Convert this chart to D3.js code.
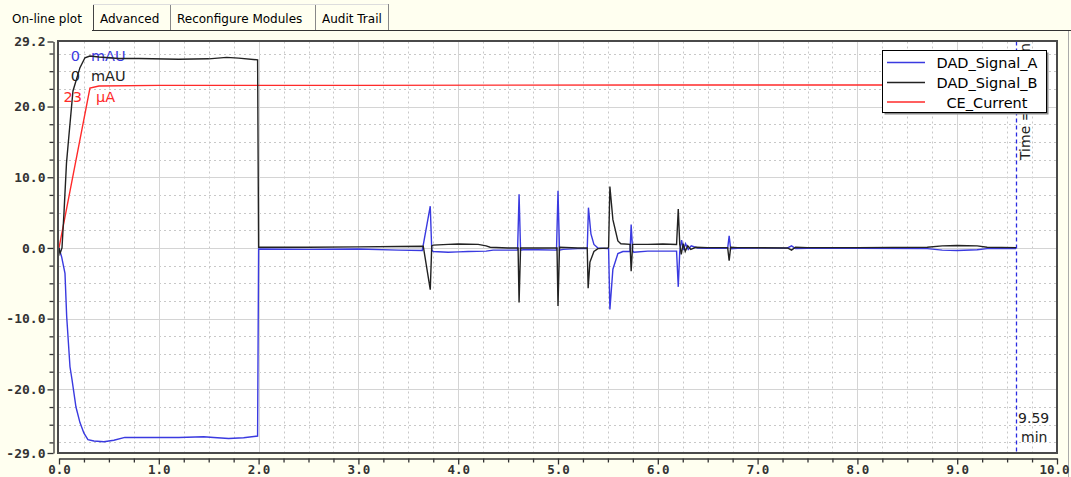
<!DOCTYPE html>
<html><head><meta charset="utf-8">
<script src="https://cdn.jsdelivr.net/npm/d3@7"></script>
<style>body{margin:0;background:#fffff0;} svg{display:block}</style>
</head><body><svg id="c" width="1071" height="477"></svg>
<script>
// ---------- data ----------
const tabs = ["On-line plot", "Advanced", "Reconfigure Modules", "Audit Trail"];
const seriesNames = ["DAD_Signal_A", "DAD_Signal_B", "CE_Current"];
const xTickValues = [0,1,2,3,4,5,6,7,8,9,10];
const yTickValues = [29.2, 20, 10, 0, -10, -20, -29.0];
const currentTime = 9.59;

const timeA = [0,0.027,0.06,0.077,0.11,0.13,0.17,0.21,0.25,0.29,0.35,0.45,0.55,0.66,0.9,1.2,1.45,1.55,1.7,1.85,1.99,2.0,
  2.5,3.0,3.4,3.64,3.72,3.735,3.75,3.9,4.0,4.1,4.28,4.35,4.595,4.61,4.625,4.65,4.8,4.985,5.0,5.015,5.05,5.2,5.293,5.305,5.33,5.36,5.4,5.5,
  5.507,5.52,5.55,5.6,5.65,5.722,5.733,5.748,5.76,5.9,6.05,6.188,6.205,6.22,6.238,6.258,6.278,6.305,6.335,6.4,6.5,6.7,6.715,6.73,6.8,
  7.3,7.34,7.38,7.5,8.0,8.7,8.85,9.0,9.2,9.3,9.59];
const signalA = [0,-1.3,-3.6,-9.7,-16.8,-18.6,-22.5,-24.7,-26.2,-27.1,-27.3,-27.4,-27.2,-26.8,-26.8,-26.8,-26.7,-26.8,-26.95,-26.85,-26.6,-0.15,
  -0.2,-0.15,-0.3,-0.35,5.9,-0.3,-0.5,-0.6,-0.55,-0.5,-0.45,-0.3,-0.3,7.6,-0.3,-0.25,-0.25,-0.3,8.1,-0.3,-0.2,-0.1,-0.1,5.7,2.0,0.5,0.0,-0.1,
  -0.1,-8.7,-3.0,-0.8,-0.5,-0.5,3.3,-0.4,-0.6,-0.45,-0.45,-0.45,-5.5,-0.5,1.1,-0.3,0.6,-0.2,0.3,0.0,-0.05,-0.05,1.7,-0.1,-0.05,
  0,0.3,-0.1,-0.05,-0.05,-0.1,-0.3,-0.35,-0.25,-0.1,-0.1];

const timeB = [0,0.01,0.03,0.05,0.075,0.095,0.14,0.21,0.26,0.31,0.4,0.6,0.8,1.2,1.5,1.68,1.8,1.99,2.0,
  2.5,3.0,3.4,3.65,3.72,3.735,3.75,3.9,4.0,4.2,4.28,4.32,4.5,4.6,4.61,4.625,4.8,4.99,5.0,5.015,5.2,5.293,5.302,5.32,5.36,5.4,5.5,
  5.507,5.52,5.55,5.6,5.63,5.722,5.733,5.748,5.9,6.05,6.188,6.205,6.22,6.235,6.255,6.275,6.3,6.33,6.38,6.5,6.7,6.715,6.73,6.8,
  7.3,7.34,7.38,7.5,8.0,8.7,8.85,9.0,9.2,9.3,9.59];
const signalB = [0,-0.8,0,5,12,15.2,22.2,25.5,26.9,27.15,27.0,26.8,26.8,26.7,26.75,26.95,26.85,26.6,0.1,
  0.1,0.15,0.2,0.25,-5.9,0.3,0.4,0.5,0.55,0.5,0.3,0.1,0,0,-7.7,0,0,0,-8.2,0.1,0,0,-5.7,-2.0,-0.5,-0.1,0,
  0.1,8.7,4.0,1.0,0.6,0.5,-3.3,0.5,0.5,0.55,0.5,5.5,0.5,-0.9,0.6,-0.5,0.3,-0.2,0.1,0.05,0.05,-1.8,0.1,0.05,
  0,-0.3,0.1,0.05,0.05,0.1,0.3,0.35,0.3,0.1,0.05];

const timeCurrent = [0,0.31,0.4,1.0,3.0,6.0,9.59];
const current = [0,22.6,22.9,23.0,23.0,23.05,23.05];

// ---------- layout ----------
const svg = d3.select("#c");
const W = 1071, H = 477;
const x = d3.scaleLinear().domain([0,10]).range([59,1057]);
const y = d3.scaleLinear().domain([-29,29.2]).range([453,41.5]);
const colors = ["#3a3ae0", "#222222", "#ff2a2a"];

svg.append("rect").attr("width",W).attr("height",H).attr("fill","#fffff0");

// tabs
const tabG = svg.append("g").attr("font-family","DejaVu Sans, sans-serif").attr("font-size",12);
const tabX = [8, 93, 170, 315, 388];
tabG.append("line").attr("x1",92).attr("x2",1071).attr("y1",30.5).attr("y2",30.5).attr("stroke","#333");
tabs.forEach((t,i)=>{
  if(i>0){
    tabG.append("line").attr("x1",tabX[i]+0.5).attr("x2",tabX[i]+0.5).attr("y1",4).attr("y2",30).attr("stroke",i===1?"#444":"#888");
    tabG.append("line").attr("x1",tabX[i]).attr("x2",tabX[i+1]).attr("y1",4.5).attr("y2",4.5).attr("stroke","#ddd");
    tabG.append("line").attr("x1",tabX[i+1]+0.5).attr("x2",tabX[i+1]+0.5).attr("y1",4).attr("y2",30).attr("stroke","#888");
  }
  tabG.append("text").attr("x",i===0?12:tabX[i]+7).attr("y",23).attr("fill","#000").text(t);
});
svg.append("line").attr("x1",1068.5).attr("x2",1068.5).attr("y1",31).attr("y2",H).attr("stroke","#aaa");

// plot area
svg.append("rect").attr("x",59).attr("y",41.5).attr("width",998).attr("height",411.5).attr("fill","#fff");

// grid
const grid = svg.append("g");
const xMinor = d3.range(0,10.001,0.25).filter(v=>Math.abs(v-Math.round(v))>1e-6);
const yMinor = d3.range(-27.5,29.2,2.5).filter(v=>Math.abs(v%10)>1e-6);
grid.selectAll(".vx").data(xMinor).join("line")
  .attr("x1",d=>Math.round(x(d))+0.5).attr("x2",d=>Math.round(x(d))+0.5).attr("y1",y(29.2)).attr("y2",y(-29))
  .attr("stroke","#c8c8c8").attr("stroke-dasharray","2,3");
grid.selectAll(".hy").data(yMinor).join("line")
  .attr("y1",d=>Math.round(y(d))+0.5).attr("y2",d=>Math.round(y(d))+0.5).attr("x1",x(0)).attr("x2",x(10))
  .attr("stroke","#c8c8c8").attr("stroke-dasharray","2,3");
grid.selectAll(".vmaj").data(d3.range(1,10)).join("line")
  .attr("x1",d=>Math.round(x(d))+0.5).attr("x2",d=>Math.round(x(d))+0.5).attr("y1",y(29.2)).attr("y2",y(-29))
  .attr("stroke","#d4d4d4");
grid.selectAll(".hmaj").data([-20,-10,0,10,20]).join("line")
  .attr("y1",d=>Math.round(y(d))+0.5).attr("y2",d=>Math.round(y(d))+0.5).attr("x1",x(0)).attr("x2",x(10))
  .attr("stroke","#d4d4d4");

// clip
svg.append("clipPath").attr("id","pc").append("rect").attr("x",59).attr("y",41.5).attr("width",998).attr("height",411.5);

// time marker
svg.append("line").attr("x1",Math.round(x(currentTime))+0.5).attr("x2",Math.round(x(currentTime))+0.5)
  .attr("y1",y(29.2)).attr("y2",y(-29)).attr("stroke","#2a2ae0").attr("stroke-width",1.3).attr("stroke-dasharray","4,3");
svg.append("g").attr("clip-path","url(#pc)").append("text")
  .attr("transform",`translate(${x(currentTime)+14},160) rotate(-90)`)
  .attr("font-family","DejaVu Sans, sans-serif").attr("font-size",14).attr("fill","#222")
  .text("Time = " + currentTime.toFixed(2) + " min");
svg.append("text").attr("x",x(currentTime)+2).attr("y",423).attr("font-family","DejaVu Sans, sans-serif").attr("font-size",14).attr("fill","#222").text(currentTime.toFixed(2));
svg.append("text").attr("x",x(currentTime)+5).attr("y",442).attr("font-family","DejaVu Sans, sans-serif").attr("font-size",14).attr("fill","#222").text("min");

// top-left labels
const lab = svg.append("g").attr("font-family","DejaVu Sans, sans-serif").attr("font-size",14.5);
const labVals = ["0","0","23"], labUnits = ["mAU","mAU","µA"];
const labY = [61,81,102], labEnd=[80,80,82], labUx=[91,91,96];
labVals.forEach((v,i)=>{
  lab.append("text").attr("x",labEnd[i]).attr("y",labY[i]).attr("text-anchor","end").attr("fill",colors[i]).text(v);
  lab.append("text").attr("x",labUx[i]).attr("y",labY[i]).attr("fill",colors[i]).text(labUnits[i]);
});

// lines
const lg = svg.append("g").attr("clip-path","url(#pc)");
const mk = (ts,vs)=>ts.map((t,i)=>[t,vs[i]]);
const line = d3.line().x(d=>x(d[0])).y(d=>y(d[1]));
lg.append("path").datum(mk(timeCurrent,current)).attr("d",line).attr("fill","none").attr("stroke",colors[2]).attr("stroke-width",1.4);
lg.append("path").datum(mk(timeA,signalA)).attr("d",line).attr("fill","none").attr("stroke",colors[0]).attr("stroke-width",1.4);
lg.append("path").datum(mk(timeB,signalB)).attr("d",line).attr("fill","none").attr("stroke",colors[1]).attr("stroke-width",1.4);

// frame
svg.append("rect").attr("x",58).attr("y",41).attr("width",999).attr("height",412).attr("fill","none").attr("stroke","#4a4a4a").attr("stroke-width",2);

// axes
const fmt = d=>d.toFixed(1);
const yAx = svg.append("g").attr("transform","translate(53.5,0)")
  .call(d3.axisLeft(y).tickValues(yTickValues).tickFormat(fmt).tickSize(6).tickSizeOuter(0));
svg.append("g").attr("transform","translate(53.5,0)")
  .call(d3.axisLeft(y).tickValues(d3.range(-27.5,29.2,2.5).filter(v=>Math.abs(v%10)>1e-6)).tickFormat("").tickSize(4).tickSizeOuter(0))
  .select(".domain").remove();
const xAx = svg.append("g").attr("transform","translate(0,458.5)")
  .call(d3.axisBottom(x).tickValues(xTickValues).tickFormat(fmt).tickSize(6).tickSizeOuter(0));
svg.append("g").attr("transform","translate(0,458.5)")
  .call(d3.axisBottom(x).tickValues(xMinor).tickFormat("").tickSize(4).tickSizeOuter(0))
  .select(".domain").remove();
svg.selectAll(".tick line").attr("stroke","#333").attr("stroke-width",1.3);
svg.selectAll(".domain").attr("stroke","#333").attr("stroke-width",1.3);
svg.selectAll(".tick text").attr("font-family","DejaVu Sans Mono, monospace").attr("font-size",13).attr("font-weight","bold").attr("fill","#333");
yAx.selectAll(".tick text").attr("x",-8);
xAx.selectAll(".tick text").attr("y",7).attr("font-size",12.5);
xAx.selectAll(".tick").filter(d=>d===10).select("text").attr("text-anchor","end").attr("x",12);

// legend
const leg = svg.append("g");
leg.append("rect").attr("x",884.5).attr("y",52.5).attr("width",164).attr("height",62).attr("fill","#888");
leg.append("rect").attr("x",882.5).attr("y",50.5).attr("width",164).attr("height",62).attr("fill","#fff").attr("stroke","#000");
const legY = [62.5,82.5,102];
seriesNames.forEach((n,i)=>{
  leg.append("line").attr("x1",887).attr("x2",925).attr("y1",legY[i]).attr("y2",legY[i]).attr("stroke",colors[i]).attr("stroke-width",1.4);
  leg.append("text").attr("x",987).attr("y",legY[i]+5.5).attr("text-anchor","middle")
    .attr("font-family","DejaVu Sans, sans-serif").attr("font-size",14.5).attr("fill","#000").text(n);
});
</script></body></html>
